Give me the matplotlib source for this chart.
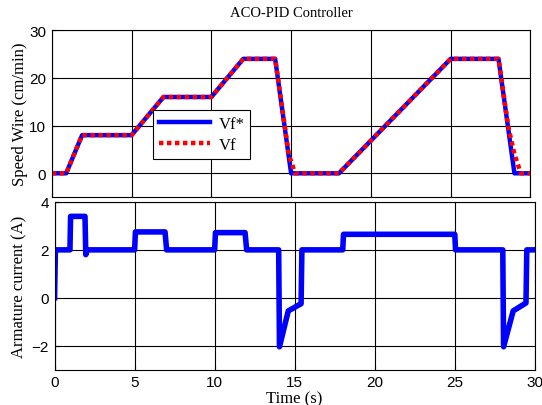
import matplotlib
matplotlib.use('Agg')
import matplotlib.pyplot as plt

# --- data ---
t_ref = [0, 0.9, 1.9, 5, 7, 10, 12, 14, 15, 18, 25, 28, 29, 30]
vf_ref = [0, 0, 8, 8, 16, 16, 24, 24, 0, 0, 24, 24, 0, 0]

t_vf = [0, 0.9, 1.9, 5, 7, 10, 12, 14, 14.6, 14.85, 15.25, 18, 25, 28, 28.6, 29.0, 29.4, 30]
vf = [0, 0, 8, 8, 16, 16, 24, 24, 10, 4, 0, 0, 24, 24, 10, 4, 0, 0]

t_ia = [0, 0.05, 0.96, 1.0, 1.9, 1.95, 2.05, 5.0, 5.05, 6.9, 7.0, 10.0, 10.05, 11.9, 12.0,
        14.0, 14.05, 14.6, 15.4, 15.45, 18.0, 18.05, 25.0, 25.05, 28.0, 28.05, 28.65,
        29.45, 29.5, 30]
ia = [0, 2, 2, 3.4, 3.4, 1.8, 2, 2, 2.75, 2.75, 2, 2, 2.72, 2.72, 2,
      2, -2.05, -0.55, -0.25, 2, 2, 2.65, 2.65, 2, 2, -2.05, -0.55,
      -0.22, 2, 2]

serif = 'Liberation Serif'
sans = 'Liberation Sans'

fig = plt.figure(figsize=(5.42, 4.06), dpi=100)
ax1 = fig.add_axes([0.0956, 0.512, 0.883, 0.411])
ax2 = fig.add_axes([0.1007, 0.0874, 0.886, 0.4126])

# top: wire speed
ax1.plot(t_ref, vf_ref, color='blue', lw=3.2, label='Vf*')
ax1.plot(t_vf, vf, color='red', lw=3.2, linestyle=(0, (1, 0.8)), label='Vf')
ax1.set_xlim(0, 30)
ax1.set_ylim(-5, 30)
ax1.set_xticks([0, 5, 10, 15, 20, 25, 30])
ax1.set_yticks([0, 10, 20, 30])
ax1.set_xticklabels([])
ax1.set_ylabel('Speed Wire (cm/min)', fontsize=12, family=serif, labelpad=1)
ax1.set_title('ACO-PID Controller', fontsize=10.5, family=serif, pad=10)
leg = ax1.legend(loc='lower left', bbox_to_anchor=(0.211, 0.228),
                 prop={'family': serif, 'size': 12}, fancybox=False, framealpha=1,
                 edgecolor='black', handlelength=3.1, borderpad=0.35,
                 labelspacing=0.3, handletextpad=0.5, borderaxespad=0)
leg.get_frame().set_linewidth(0.8)

# bottom: armature current
ax2.plot(t_ia, ia, color='blue', lw=4)
ax2.set_xlim(0, 30)
ax2.set_ylim(-3, 4)
ax2.set_xticks([0, 5, 10, 15, 20, 25, 30])
ax2.set_yticks([-2, 0, 2, 4])
ax2.set_ylabel('Armature current (A)', fontsize=12, family=serif, labelpad=3)
ax2.set_xlabel('Time (s)', fontsize=12, family=serif, labelpad=1)

for ax in (ax1, ax2):
    ax.grid(True, color='black', linewidth=0.8)
    ax.tick_params(direction='in', length=3, labelsize=11, pad=4)
    for lab in ax.get_xticklabels() + ax.get_yticklabels():
        lab.set_family(sans)
    for s in ax.spines.values():
        s.set_linewidth(0.8)

fig.savefig('out.png', dpi=100)
